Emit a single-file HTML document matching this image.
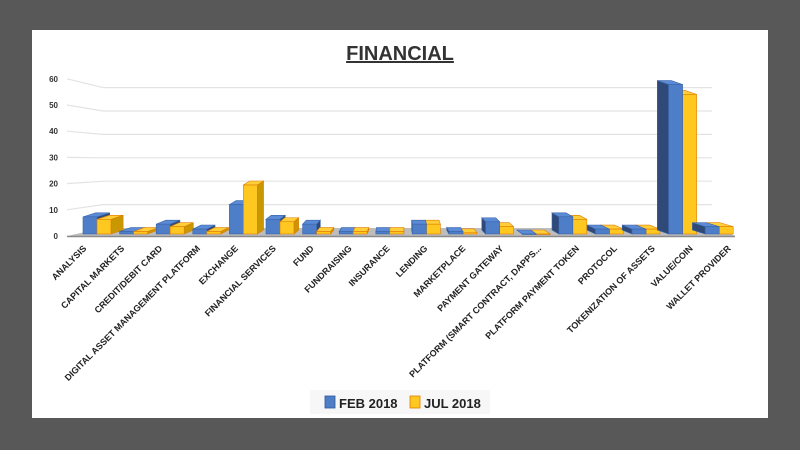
<!DOCTYPE html>
<html><head><meta charset="utf-8"><style>
html,body{margin:0;padding:0;background:#585858;}
svg{display:block;font-family:"Liberation Sans",sans-serif;}
</style></head><body>
<svg width="800" height="450" viewBox="0 0 800 450">
<rect x="0" y="0" width="800" height="450" fill="#585858"/>
<rect x="32" y="30" width="736" height="388" fill="#ffffff"/>
<text x="400" y="60" text-anchor="middle" font-size="20" font-weight="bold" fill="#333" text-decoration="underline">FINANCIAL</text>
<g id="grid"></g>
<g id="yaxis"></g>
<g id="floor"></g>
<g id="bars"></g>
<g id="xlabels"></g>
<g>
<rect x="310" y="390" width="180" height="24" fill="#f7f7f7"/>
<g>
<rect x="325" y="396" width="10" height="12" fill="#4f7ec9" stroke="#2f5597" stroke-width="0.8"/>
<text x="339" y="408" font-size="13" font-weight="bold" fill="#222">FEB 2018</text></g>
<g>
<rect x="410" y="396" width="10" height="12" fill="#ffc821" stroke="#e07b00" stroke-width="0.8"/>
<text x="424" y="408" font-size="13" font-weight="bold" fill="#222">JUL 2018</text></g>
</g>
</svg>
<script>
const categories=["ANALYSIS","CAPITAL MARKETS","CREDIT/DEBIT CARD","DIGITAL ASSET MANAGEMENT PLATFORM","EXCHANGE","FINANCIAL SERVICES","FUND","FUNDRAISING","INSURANCE","LENDING","MARKETPLACE","PAYMENT GATEWAY","PLATFORM (SMART CONTRACT, DAPPS...","PLATFORM PAYMENT TOKEN","PROTOCOL","TOKENIZATION OF ASSETS","VALUE/COIN","WALLET PROVIDER"];
const feb2018=[7,1,4,2,12,6,4,1,1,4,1,5,0,7,2,2,61,3];
const jul2018=[6,1,3,1,20,5,1,1,1,4,0.5,3,0,6,2,2,57,3];
const yTicks=[0,10,20,30,40,50,60];
const NS="http://www.w3.org/2000/svg";
function mk(tag,attrs,parent){const e=document.createElementNS(NS,tag);for(const k in attrs)e.setAttribute(k,attrs[k]);parent.appendChild(e);return e;}
const baseY=234, unit=2.45, x0=83, band=36.6, bw=14, dy=4, vp=400, kp=0.041;
function yScale(v){return baseY-v*unit;}
function xScale(i){return x0+i*band;}
function backY(v){return 228-v*2.34;}
const grid=document.getElementById('grid'), yaxis=document.getElementById('yaxis');
yTicks.forEach(t=>{
  const ly=236-t*2.62;
  if(t>0){
    const l1=mk('line',{x1:67,y1:ly,x2:103,y2:backY(t),stroke:'#e3e3e3','stroke-width':1.2},grid);
    
    
    const l2=mk('line',{x1:103,y1:backY(t),x2:712,y2:backY(t),stroke:'#e3e3e3','stroke-width':1.2},grid);
    
    
  }
  const tx=mk('text',{x:58,y:ly+3,'text-anchor':'end','font-size':8,'font-weight':'bold',fill:'#333'},yaxis);
  tx.textContent=t;
  
  
});
const floor=document.getElementById('floor');
const fl=mk('polygon',{points:"67,236 735,236 722,228 103,228",fill:'#bdbdbd'},floor);


const fe=mk('line',{x1:67,y1:236.5,x2:735,y2:236.5,stroke:'#8a8a8a','stroke-width':1.5},floor);


const bars=document.getElementById('bars');
function bar3d(x,v,front,side,top,stroke,name){
  const g=mk('g',{},bars);
  
  
  const yt=yScale(v);
  const dx=(vp-(x+bw/2))*kp;
  const sx=dx>0?x+bw:x;
  mk('polygon',{points:`${sx},${baseY} ${sx+dx},${baseY-dy} ${sx+dx},${yt-dy} ${sx},${yt}`,fill:side,stroke:stroke,'stroke-width':0.6},g);
  mk('polygon',{points:`${x},${yt} ${x+dx},${yt-dy} ${x+bw+dx},${yt-dy} ${x+bw},${yt}`,fill:top,stroke:stroke,'stroke-width':0.6},g);
  mk('rect',{x:x,y:yt,width:bw,height:Math.max(0.5,baseY-yt),fill:front,stroke:stroke,'stroke-width':0.6},g);
}
categories.forEach((c,i)=>{
  const x=xScale(i);
  const drawFeb=()=>bar3d(x,feb2018[i],'#4f7ec9','#2f4a78','#5b8bd6','#3a64a8','bar-feb-'+i);
  const drawJul=()=>bar3d(x+bw,jul2018[i],'#ffc821','#c99700','#ffcf3a','#e07b00','bar-jul-'+i);
  if(x+bw<vp){drawFeb();drawJul();}else{drawJul();drawFeb();}
});
const xl=document.getElementById('xlabels');
categories.forEach((c,i)=>{
  const lx=87+i*37.9, ly=249;
  const t=mk('text',{x:lx,y:ly,'text-anchor':'end','font-size':9,'font-weight':'bold',fill:'#222',transform:`rotate(-45 ${lx} ${ly})`},xl);
  t.textContent=c;
  
  
});
</script>
</body></html>
